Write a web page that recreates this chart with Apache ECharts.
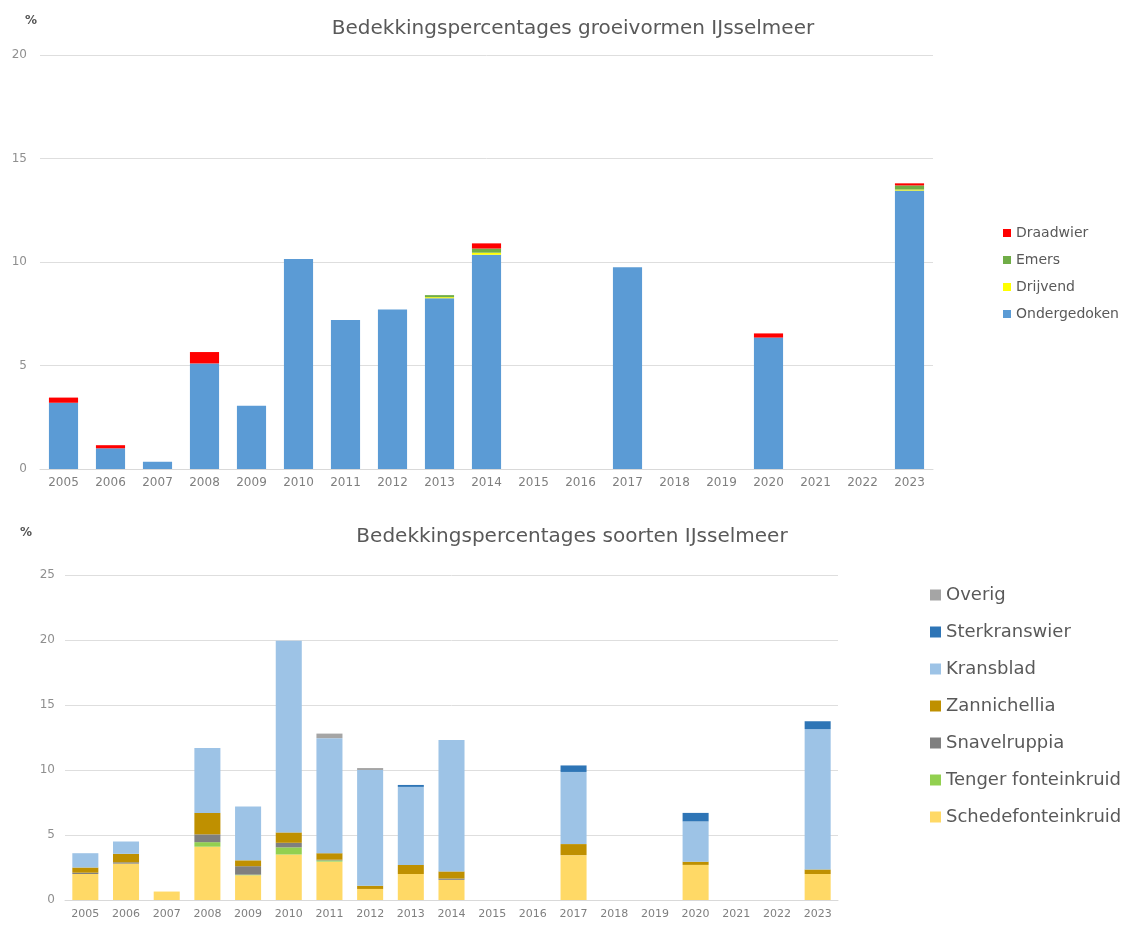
<!DOCTYPE html>
<html>
<head>
<meta charset="utf-8">
<script src="https://cdn.jsdelivr.net/npm/echarts@6/dist/echarts.min.js"></script>
<style>
  html, body { margin: 0; padding: 0; background: #ffffff; }
  #chart { width: 1130px; height: 928px; }
</style>
</head>
<body>
<div id="chart"></div>
<script>
// Years shared by both panels
const years = ['2005','2006','2007','2008','2009','2010','2011','2012','2013','2014',
               '2015','2016','2017','2018','2019','2020','2021','2022','2023'];

// Panel 1: coverage by growth form (%)
const ondergedoken = [3.2, 1.0, 0.35, 5.1, 3.05, 10.15, 7.2, 7.7, 8.25, 10.35, 0, 0, 9.75, 0, 0, 6.35, 0, 0, 13.45];
const drijvend     = [0, 0, 0, 0, 0, 0, 0, 0, 0.05, 0.1, 0, 0, 0, 0, 0, 0, 0, 0, 0.05];
const emers        = [0, 0, 0, 0, 0, 0, 0, 0, 0.1, 0.2, 0, 0, 0, 0, 0, 0, 0, 0, 0.2];
const draadwier    = [0.25, 0.15, 0, 0.55, 0, 0, 0, 0, 0, 0.25, 0, 0, 0, 0, 0, 0.2, 0, 0, 0.1];

// Panel 2: coverage by species (%)
const schedefonteinkruid = [2.0, 2.8, 0.65, 4.1, 1.9, 3.5, 2.95, 0.85, 2.0, 1.55, 0, 0, 3.45, 0, 0, 2.7, 0, 0, 2.0];
const tengerFonteinkruid = [0, 0, 0, 0.35, 0.05, 0.55, 0.1, 0, 0, 0, 0, 0, 0, 0, 0, 0, 0, 0, 0];
const snavelruppia       = [0.1, 0.1, 0, 0.6, 0.65, 0.35, 0.05, 0, 0, 0.1, 0, 0, 0, 0, 0, 0, 0, 0, 0];
const zannichellia       = [0.4, 0.65, 0, 1.65, 0.45, 0.8, 0.5, 0.25, 0.7, 0.55, 0, 0, 0.85, 0, 0, 0.25, 0, 0, 0.35];
const kransblad          = [1.1, 0.95, 0, 5.0, 4.15, 14.75, 8.85, 8.9, 6.0, 10.1, 0, 0, 5.55, 0, 0, 3.1, 0, 0, 10.8];
const sterkranswier      = [0, 0, 0, 0, 0, 0, 0, 0, 0.15, 0, 0, 0, 0.5, 0, 0, 0.65, 0, 0, 0.6];
const overig             = [0, 0, 0, 0, 0, 0, 0.35, 0.15, 0, 0, 0, 0, 0, 0, 0, 0, 0, 0, 0];

const topTicks = [0, 5, 10, 15, 20];
const bottomTicks = [0, 5, 10, 15, 20, 25];

const FONT = '"DejaVu Sans", Verdana, sans-serif';
const TEXT = '#595959';
const GRIDLINE = '#dedede';

const chart = echarts.init(document.getElementById('chart'), null, { renderer: 'canvas' });

function barSeries(name, data, color, xIdx, gap) {
  return {
    name, type: 'bar', stack: 'g' + xIdx, data,
    xAxisIndex: xIdx, yAxisIndex: xIdx,
    barCategoryGap: gap,
    itemStyle: { color },
    emphasis: { disabled: true }
  };
}

function valueAxis(gridIndex, ticks, fontSize, margin) {
  return {
    type: 'value', gridIndex,
    min: ticks[0], max: ticks[ticks.length - 1], interval: ticks[1] - ticks[0],
    axisLine: { show: false }, axisTick: { show: false },
    splitLine: { lineStyle: { color: GRIDLINE, width: 1 } },
    axisLabel: { color: '#8f8f8f', fontSize, fontFamily: FONT, margin }
  };
}

function catAxis(gridIndex, fontSize, margin) {
  return {
    type: 'category', gridIndex, data: years,
    axisLine: { lineStyle: { color: '#d9d9d9' } },
    axisTick: { show: false },
    axisLabel: { color: '#7f7f7f', fontSize, fontFamily: FONT, margin, interval: 0 }
  };
}

chart.setOption({
  animation: false,
  backgroundColor: '#ffffff',
  title: [
    { text: 'Bedekkingspercentages groeivormen IJsselmeer', left: 568, top: 14, textAlign: 'center',
      textStyle: { color: TEXT, fontSize: 20, fontWeight: 'normal', fontFamily: FONT } },
    { text: '%', left: 20, top: 10,
      textStyle: { color: '#555', fontSize: 12, fontWeight: 'bold', fontFamily: FONT } },
    { text: 'Bedekkingspercentages soorten IJsselmeer', left: 567, top: 522, textAlign: 'center',
      textStyle: { color: TEXT, fontSize: 20, fontWeight: 'normal', fontFamily: FONT } },
    { text: '%', left: 15, top: 522,
      textStyle: { color: '#555', fontSize: 12, fontWeight: 'bold', fontFamily: FONT } }
  ],
  legend: [
    { orient: 'vertical', left: 998, top: 221, itemWidth: 8, itemHeight: 8, itemGap: 13,
      icon: 'rect',
      data: ['Draadwier', 'Emers', 'Drijvend', 'Ondergedoken'],
      textStyle: { color: TEXT, fontSize: 14, fontFamily: FONT, lineHeight: 14 } },
    { orient: 'vertical', left: 925, top: 580, itemWidth: 11, itemHeight: 11, itemGap: 17,
      icon: 'rect',
      data: ['Overig', 'Sterkranswier', 'Kransblad', 'Zannichellia', 'Snavelruppia',
             'Tenger fonteinkruid', 'Schedefonteinkruid'],
      textStyle: { color: TEXT, fontSize: 18, fontFamily: FONT, lineHeight: 20 } }
  ],
  grid: [
    { left: 40, top: 55, width: 893, height: 414 },
    { left: 65, top: 575, width: 773, height: 325 }
  ],
  xAxis: [catAxis(0, 12, 8), catAxis(1, 11, 9)],
  yAxis: [valueAxis(0, topTicks, 12, 13), valueAxis(1, bottomTicks, 12, 10)],
  series: [
    barSeries('Ondergedoken', ondergedoken, '#5b9bd5', 0, '38%'),
    barSeries('Drijvend', drijvend, '#ffff00', 0, '38%'),
    barSeries('Emers', emers, '#70ad47', 0, '38%'),
    barSeries('Draadwier', draadwier, '#ff0000', 0, '38%'),

    barSeries('Schedefonteinkruid', schedefonteinkruid, '#ffd966', 1, '36%'),
    barSeries('Tenger fonteinkruid', tengerFonteinkruid, '#92d050', 1, '36%'),
    barSeries('Snavelruppia', snavelruppia, '#7f7f7f', 1, '36%'),
    barSeries('Zannichellia', zannichellia, '#bf9000', 1, '36%'),
    barSeries('Kransblad', kransblad, '#9dc3e6', 1, '36%'),
    barSeries('Sterkranswier', sterkranswier, '#2e75b6', 1, '36%'),
    barSeries('Overig', overig, '#a5a5a5', 1, '36%')
  ]
});
</script>
</body>
</html>
